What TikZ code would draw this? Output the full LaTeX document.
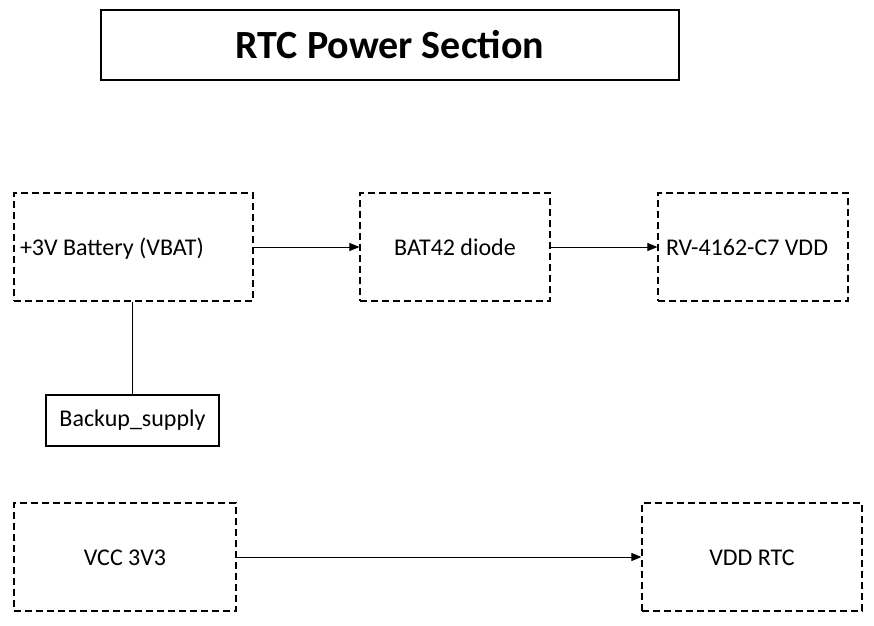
\documentclass[tikz,border=0pt]{standalone}
\usepackage{fontspec}
\setmainfont{Carlito}
\usepackage{tikz}
\usetikzlibrary{arrows.meta}

\tikzset{
  blk/.style={draw, dashed, dash pattern=on 7pt off 4pt, line width=1.2pt, minimum height=108pt, inner sep=0pt, text height=18pt, text depth=2pt, font=\fontsize{24}{28}\selectfont},
  solidblk/.style={draw, line width=1.1pt, inner sep=0pt, font=\fontsize{24}{28}\selectfont},
  feed/.style={line width=0.9pt, -{Triangle[length=10pt,width=8pt]}}
}

\begin{document}
\begin{tikzpicture}[x=1pt,y=-1pt]
\useasboundingbox (0,0) rectangle (874,625);
\node[solidblk, minimum width=578pt, minimum height=70pt, font=\fontsize{40}{46}\selectfont\bfseries] (title) at (390,45) {RTC Power Section};
\node[blk, minimum width=239pt, text width=227pt, align=flush left] (vbat) at (133.5,247) {+3V Battery (VBAT)};
\node[blk, minimum width=190pt] (diode) at (455,247) {BAT42 diode};
\node[blk, minimum width=190pt, text width=174pt, align=flush left] (rtcvdd) at (753,247) {RV-4162-C7 VDD};
\node[solidblk, minimum width=173pt, minimum height=51pt] (backup) at (132.5,420.5) {Backup\_supply};
\node[blk, minimum width=222pt] (vcc) at (125,557) {VCC 3V3};
\node[blk, minimum width=220pt] (vddrtc) at (752,557) {VDD RTC};
\draw[feed] (vbat) -- (diode);
\draw[feed] (diode) -- (rtcvdd);
\draw[line width=0.9pt] (backup.north) -- (backup.north |- vbat.south);
\draw[feed] (vcc) -- (vddrtc);
\end{tikzpicture}
\end{document}
